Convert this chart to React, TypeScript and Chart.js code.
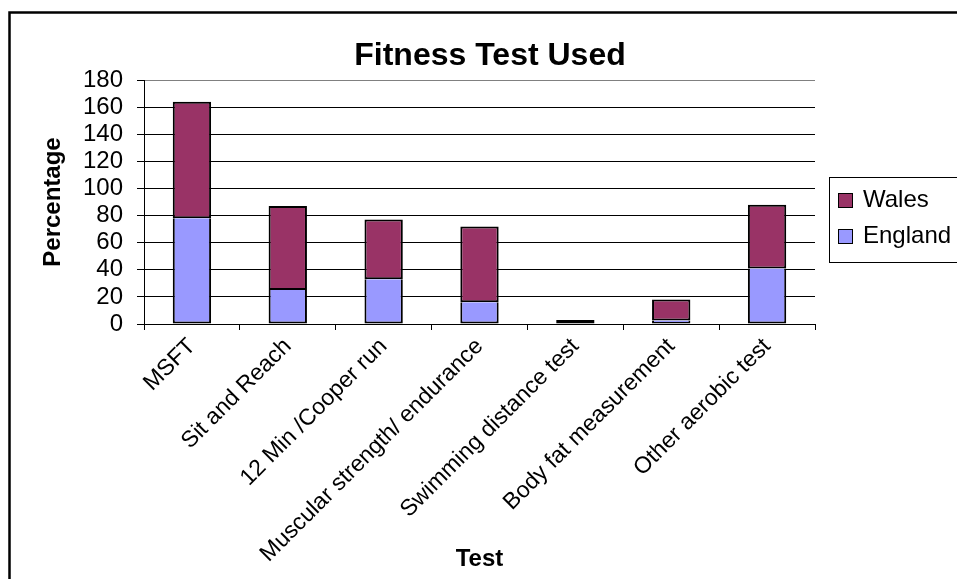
import React, { useEffect, useRef } from "react";
import { Chart, registerables } from "chart.js";

Chart.register(...registerables);

const categories = [
  "MSFT",
  "Sit and Reach",
  "12 Min /Cooper run",
  "Muscular strength/ endurance",
  "Swimming distance test",
  "Body fat measurement",
  "Other aerobic test",
];
const englandValues = [78, 25, 33, 16, 3, 2.5, 41];
const walesValues = [86, 62, 44, 56, 0, 15.5, 47];
const yTicks = [0, 20, 40, 60, 80, 100, 120, 140, 160, 180];

const FONT = "'Liberation Sans', Arial, sans-serif";
const WALES_COLOR = "#993366";
const ENGLAND_COLOR = "#9999FF";

const framePlugin = {
  id: "frame",
  beforeDraw(chart: any) {
    const ctx = chart.ctx;
    ctx.save();
    ctx.fillStyle = "#ffffff";
    ctx.fillRect(0, 0, chart.width, chart.height);
    ctx.restore();
  },
  afterDraw(chart: any) {
    const ctx = chart.ctx;
    ctx.save();
    // outer frame
    ctx.strokeStyle = "#000000";
    ctx.lineWidth = 2.5;
    ctx.strokeRect(9.5, 12.5, 1100, 1100);
    // legend box
    ctx.lineWidth = 1;
    ctx.strokeRect(829.5, 177.5, 200, 85);
    const items = [
      { label: chart.data.datasets[1].label, color: WALES_COLOR, y: 200 },
      { label: chart.data.datasets[0].label, color: ENGLAND_COLOR, y: 236 },
    ];
    ctx.font = `24px ${FONT}`;
    ctx.textBaseline = "middle";
    ctx.textAlign = "left";
    for (const it of items) {
      ctx.fillStyle = it.color;
      ctx.fillRect(838, it.y - 7, 15, 15);
      ctx.strokeStyle = "#000";
      ctx.lineWidth = 1;
      ctx.strokeRect(838.5, it.y - 6.5, 14, 14);
      ctx.fillStyle = "#000";
      ctx.fillText(it.label, 863, it.y);
    }
    ctx.restore();
  },
};

export default function App() {
  const canvasRef = useRef<HTMLCanvasElement | null>(null);

  useEffect(() => {
    if (!canvasRef.current) return;
    const chart = new Chart(canvasRef.current, {
      type: "bar",
      data: {
        labels: categories,
        datasets: [
          {
            label: "England",
            data: englandValues,
            backgroundColor: ENGLAND_COLOR,
            borderColor: "#000000",
            borderWidth: 2,
            borderSkipped: (c: any) => (walesValues[c.dataIndex] > 0 ? "end" : false),
            stack: "s",
          },
          {
            label: "Wales",
            data: walesValues,
            backgroundColor: WALES_COLOR,
            borderColor: "#000000",
            borderWidth: 2,
            borderSkipped: false,
            stack: "s",
          },
        ],
      },
      options: {
        responsive: false,
        animation: false,
        devicePixelRatio: 1,
        layout: { padding: { left: 23, top: 12, right: 0, bottom: 0 } },
        datasets: {
          bar: { categoryPercentage: 1, barPercentage: 0.4 },
        },
        plugins: {
          legend: { display: false },
          tooltip: { enabled: false },
          title: {
            display: true,
            text: "Fitness Test Used",
            color: "#000",
            font: { family: FONT, size: 32, weight: "bold" },
            padding: { top: 25, bottom: 4.6 },
          },
        },
        scales: {
          x: {
            stacked: true,
            afterFit: (scale: any) => {
              scale.height = 255;
            },
            grid: {
              offset: true,
              drawOnChartArea: true,
              color: (c: any) => (c.index === categories.length ? "#808080" : "rgba(0,0,0,0)"),
              tickColor: "#000",
              tickLength: 6,
              lineWidth: 1,
            },
            border: { display: true, color: "#000", width: 1 },
            ticks: {
              color: "#000",
              font: { family: FONT, size: 23 },
              maxRotation: 45,
              minRotation: 45,
              padding: 3,
              autoSkip: false,
            },
            title: {
              display: true,
              text: "Test",
              color: "#000",
              font: { family: FONT, size: 24, weight: "bold" },
              padding: { top: 0, bottom: 5 },
            },
          },
          y: {
            stacked: true,
            min: 0,
            max: 180,
            afterFit: (scale: any) => {
              scale.width = 121;
            },
            afterBuildTicks: (scale: any) => {
              scale.ticks = yTicks.map((v) => ({ value: v }));
            },
            grid: {
              color: (c: any) => (c.tick && c.tick.value === 180 ? "#808080" : "#000"),
              tickColor: "#000",
              tickLength: 7,
              lineWidth: 1,
            },
            border: { display: true, color: "#000", width: 1 },
            ticks: {
              color: "#000",
              font: { family: FONT, size: 24 },
              padding: 14,
              autoSkip: false,
            },
            title: {
              display: true,
              text: "Percentage",
              color: "#000",
              font: { family: FONT, size: 24, weight: "bold" },
              padding: { top: 16, bottom: 0 },
            },
          },
          legendSpace: {
            type: "linear",
            position: "right",
            display: true,
            afterFit: (scale: any) => {
              scale.width = 142;
            },
            grid: { display: false, drawTicks: false },
            border: { display: false },
            ticks: { display: false },
          },
        },
      },
      plugins: [framePlugin],
    });
    return () => chart.destroy();
  }, []);

  return (
    <div style={{ position: "absolute", left: 0, top: 0, width: 957, height: 579 }}>
      <canvas ref={canvasRef} width={957} height={579} />
    </div>
  );
}
